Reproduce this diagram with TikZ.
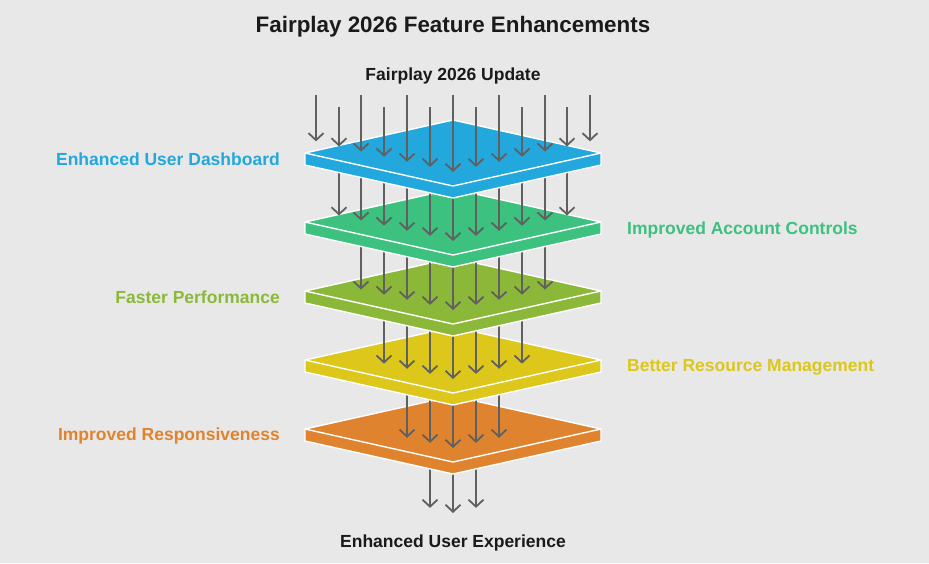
\documentclass[tikz,border=0pt]{standalone}
\usepackage{fontspec}
\setmainfont{Liberation Sans}
\usetikzlibrary{arrows.meta}
\definecolor{bg}{HTML}{E8E8E8}
\definecolor{cblue}{HTML}{22A8DC}
\definecolor{cgreen}{HTML}{3CC17F}
\definecolor{colive}{HTML}{8CB83A}
\definecolor{cyellow}{HTML}{DCC71A}
\definecolor{corange}{HTML}{E0832F}
\definecolor{arrgray}{HTML}{606060}
\definecolor{ink}{HTML}{1A1A1A}
\tikzset{
  arr/.style={draw=arrgray, line width=1.8pt, -{Straight Barb[length=7pt,width=15pt,line width=1.8pt]}},
  plateline/.style={draw=white, line width=1.4pt, line join=round},
  lbl/.style={font=\bfseries\fontsize{17.5}{20}\selectfont, inner sep=0pt},
  ttl/.style={font=\bfseries\fontsize{22.4}{26}\selectfont, text=ink, inner sep=0pt, anchor=base},
  sub/.style={font=\bfseries\fontsize{17.5}{20}\selectfont, text=ink, inner sep=0pt, anchor=base}
}
\newcommand\myplate[2]{%
  \fill[#2] (305,#1) -- (453,#1-33) -- (601,#1) -- (601,#1+12) -- (453,#1+45) -- (305,#1+12) -- cycle;
  \draw[plateline] (305,#1) -- (453,#1-33) -- (601,#1) -- (601,#1+12) -- (453,#1+45) -- (305,#1+12) -- cycle;
  \draw[plateline] (305,#1) -- (453,#1+33) -- (601,#1);
}
\newcommand\arrowrow[3]{%
  \foreach \i in {-#1,...,#1}{
    \pgfmathsetmacro\xx{round(453+22.9*\i)}
    \pgfmathsetmacro\ff{33*(1-abs(\i)*22.9/148)}
    \pgfmathsetmacro\tip{#2+\ff-14}
    \pgfmathsetmacro\st{(#3<0) ? ((mod(abs(\i),2)==1) ? 107 : 95) : (#3+\ff)}
    \draw[arr] (\xx,\st) -- (\xx,\tip);
  }%
}
\begin{document}
\begin{tikzpicture}[x=1pt,y=-1pt]
\fill[bg] (0,0) rectangle (929,563);
\useasboundingbox (0,0) rectangle (929,563);

\node[ttl] (title) at (453,32) {Fairplay 2026 Feature Enhancements};
\node[sub] (top) at (453,80) {Fairplay 2026 Update};
\node[sub] (bottom) at (453,547) {Enhanced User Experience};

\arrowrow{1}{494}{429}
\myplate{429}{corange}
\arrowrow{2}{429}{360}
\myplate{360}{cyellow}
\arrowrow{3}{360}{291}
\myplate{291}{colive}
\arrowrow{4}{291}{222}
\myplate{222}{cgreen}
\arrowrow{5}{222}{153}
\myplate{153}{cblue}
\arrowrow{6}{153}{-1}

\node[lbl, text=cblue, anchor=base east] (l1) at (280,165) {Enhanced User Dashboard};
\node[lbl, text=cgreen, anchor=base west] (l2) at (627,234) {Improved Account Controls};
\node[lbl, text=colive, anchor=base east] (l3) at (280,303) {Faster Performance};
\node[lbl, text=cyellow, anchor=base west] (l4) at (627,371) {Better Resource Management};
\node[lbl, text=corange, anchor=base east] (l5) at (280,440) {Improved Responsiveness};
\end{tikzpicture}
\end{document}
